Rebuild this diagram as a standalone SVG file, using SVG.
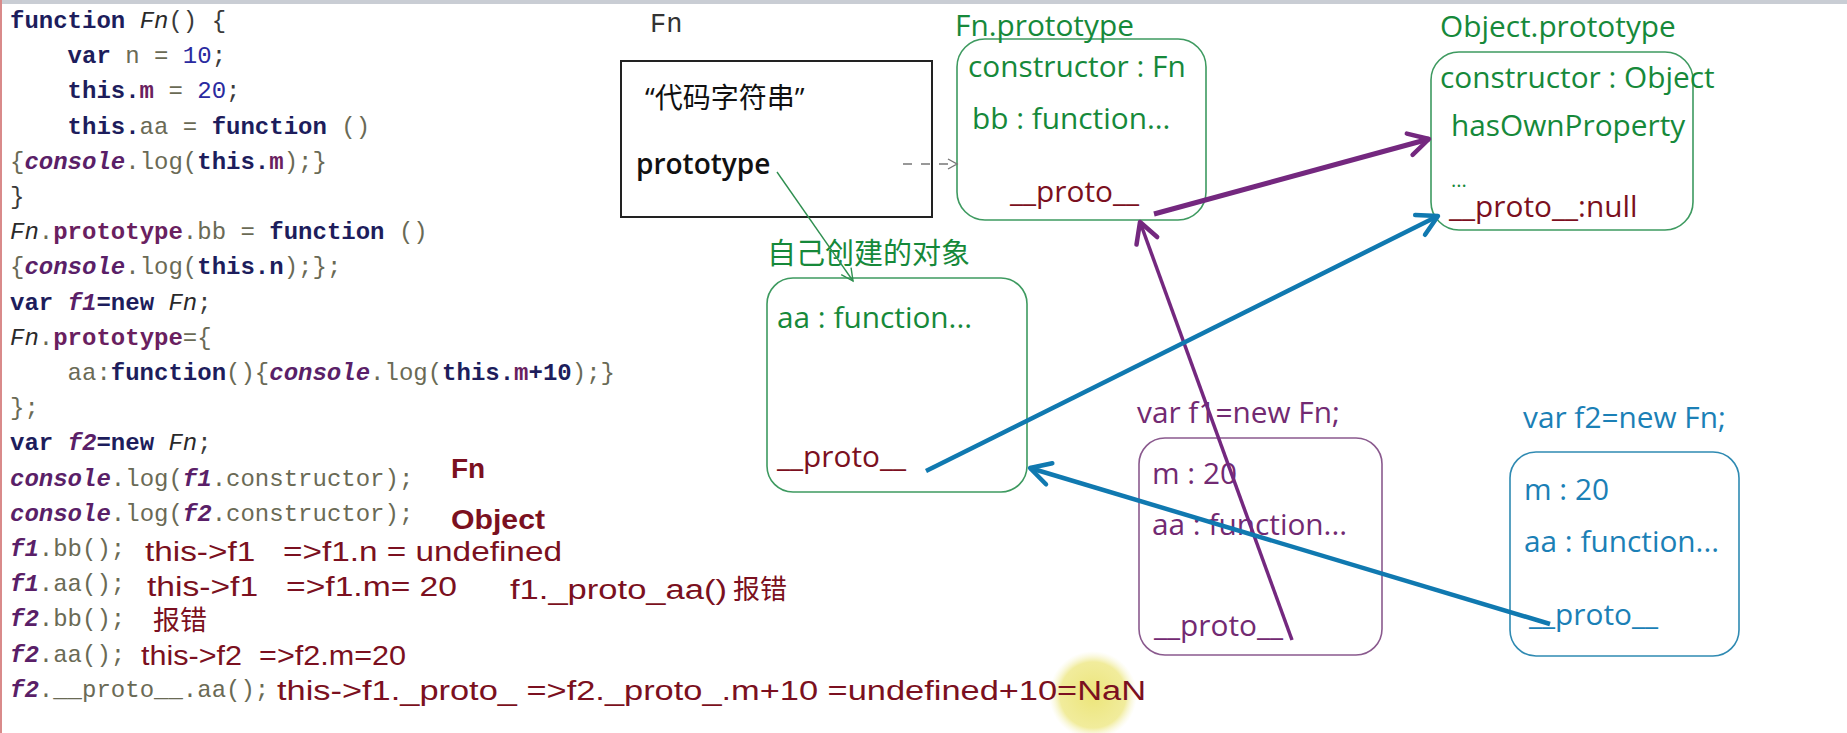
<svg xmlns="http://www.w3.org/2000/svg" width="1847" height="733" viewBox="0 0 1847 733">
<style>
text{white-space:pre}
.code{font-family:"Liberation Mono","DejaVu Sans Mono",monospace;font-size:24px;fill:#3a3a3a}
.k{font-weight:bold;fill:#1d1d5c}
.i{font-style:italic;fill:#2a2a2a}
.c{font-style:italic;font-weight:bold;fill:#5a1f68}
.g{fill:#6a6a55}
.p{font-weight:bold;fill:#6a1f60}
.n{fill:#2a2aa0}
.d{fill:#3a3a3a}
.ann{font-family:"Liberation Sans",Arial,"Noto Sans CJK SC",sans-serif;font-size:27px;fill:#7b1020}
.annb{font-family:"Liberation Sans",Arial,sans-serif;font-size:28px;font-weight:bold;fill:#7b1020}
.lbl{font-family:"Open Sans","Noto Sans","Liberation Sans",sans-serif;font-size:29.8px}
.cjk{font-family:"Noto Sans CJK SC","Noto Sans",sans-serif}
.green{fill:#16893a}
.red{fill:#7b1020}
.purple{fill:#722a72}
.blue{fill:#1b80b6}
.gbox{fill:none;stroke:#3e9a60;stroke-width:1.6}
.pbox{fill:none;stroke:#8a5a8e;stroke-width:1.6}
.bbox{fill:none;stroke:#2f8ab2;stroke-width:1.6}
</style>
<defs>
<marker id="ahP" markerUnits="userSpaceOnUse" viewBox="0 0 30 30" markerWidth="30" markerHeight="30" refX="27" refY="15" orient="auto">
<path d="M7,4 L27,15 L7,26" fill="none" stroke="#74287f" stroke-width="4.5" stroke-linecap="round" stroke-linejoin="round"/>
</marker>
<marker id="ahB" markerUnits="userSpaceOnUse" viewBox="0 0 30 30" markerWidth="30" markerHeight="30" refX="27" refY="15" orient="auto">
<path d="M7,4 L27,15 L7,26" fill="none" stroke="#1079b0" stroke-width="4.5" stroke-linecap="round" stroke-linejoin="round"/>
</marker>
<marker id="ahG" markerUnits="userSpaceOnUse" viewBox="0 0 16 16" markerWidth="16" markerHeight="16" refX="14" refY="8" orient="auto">
<path d="M2,2 L14,8 L2,14" fill="none" stroke="#2f8f50" stroke-width="1.4"/>
</marker>
<marker id="ahD" markerUnits="userSpaceOnUse" viewBox="0 0 14 14" markerWidth="14" markerHeight="14" refX="12" refY="7" orient="auto">
<path d="M3,2 L12,7 L3,12" fill="none" stroke="#777" stroke-width="1.4"/>
</marker>
<radialGradient id="hl">
<stop offset="0" stop-color="#ece57a"/>
<stop offset="0.75" stop-color="#f1ec9c"/>
<stop offset="1" stop-color="#f7f5d0" stop-opacity="0"/>
</radialGradient>
</defs>
<rect x="0" y="0" width="1847" height="733" fill="#ffffff"/>
<rect x="0" y="0" width="1847" height="4" fill="#c9cdd4"/>
<rect x="0" y="0" width="2" height="733" fill="#d98a8a"/>

<g id="code" class="code">
<text x="10" y="28"><tspan class="k">function</tspan> <tspan class="i">Fn</tspan><tspan class="d">() {</tspan></text>
<text x="67.6" y="63.2"><tspan class="k">var</tspan><tspan class="g"> n = </tspan><tspan class="n">10</tspan><tspan class="d">;</tspan></text>
<text x="67.6" y="98.4"><tspan class="k">this.</tspan><tspan class="p">m</tspan><tspan class="g"> = </tspan><tspan class="n">20</tspan><tspan class="d">;</tspan></text>
<text x="67.6" y="133.6"><tspan class="k">this.</tspan><tspan class="g">aa = </tspan><tspan class="k">function</tspan><tspan class="g"> ()</tspan></text>
<text x="10" y="168.8"><tspan class="g">{</tspan><tspan class="c">console</tspan><tspan class="g">.log(</tspan><tspan class="k">this.</tspan><tspan class="p">m</tspan><tspan class="g">);}</tspan></text>
<text x="10" y="204"><tspan class="d">}</tspan></text>
<text x="10" y="239.2"><tspan class="i">Fn</tspan><tspan class="g">.</tspan><tspan class="p">prototype</tspan><tspan class="g">.bb = </tspan><tspan class="k">function</tspan><tspan class="g"> ()</tspan></text>
<text x="10" y="274.4"><tspan class="g">{</tspan><tspan class="c">console</tspan><tspan class="g">.log(</tspan><tspan class="k">this.n</tspan><tspan class="g">);};</tspan></text>
<text x="10" y="309.6"><tspan class="k">var</tspan> <tspan class="c">f1</tspan><tspan class="k">=new</tspan> <tspan class="i">Fn</tspan><tspan class="d">;</tspan></text>
<text x="10" y="344.8"><tspan class="i">Fn</tspan><tspan class="g">.</tspan><tspan class="p">prototype</tspan><tspan class="g">={</tspan></text>
<text x="67.6" y="380"><tspan class="g">aa:</tspan><tspan class="k">function</tspan><tspan class="g">(){</tspan><tspan class="c">console</tspan><tspan class="g">.log(</tspan><tspan class="k">this.</tspan><tspan class="p">m</tspan><tspan class="k">+10</tspan><tspan class="g">);}</tspan></text>
<text x="10" y="415.2"><tspan class="g">};</tspan></text>
<text x="10" y="450.4"><tspan class="k">var</tspan> <tspan class="c">f2</tspan><tspan class="k">=new</tspan> <tspan class="i">Fn</tspan><tspan class="d">;</tspan></text>
<text x="10" y="485.6"><tspan class="c">console</tspan><tspan class="g">.log(</tspan><tspan class="c">f1</tspan><tspan class="g">.constructor);</tspan></text>
<text x="10" y="520.8"><tspan class="c">console</tspan><tspan class="g">.log(</tspan><tspan class="c">f2</tspan><tspan class="g">.constructor);</tspan></text>
<text x="10" y="556"><tspan class="c">f1</tspan><tspan class="g">.bb();</tspan></text>
<text x="10" y="591.2"><tspan class="c">f1</tspan><tspan class="g">.aa();</tspan></text>
<text x="10" y="626.4"><tspan class="c">f2</tspan><tspan class="g">.bb();</tspan></text>
<text x="10" y="661.6"><tspan class="c">f2</tspan><tspan class="g">.aa();</tspan></text>
<text x="10" y="696.8"><tspan class="c">f2</tspan><tspan class="g">.__proto__.aa();</tspan></text>
</g>

<circle cx="1093" cy="695" r="44" fill="url(#hl)"/>

<g id="annotations">
<text class="annb" x="451" y="478">Fn</text>
<text class="annb" x="451" y="529" textLength="94" lengthAdjust="spacingAndGlyphs">Object</text>
<text class="ann" x="145" y="561" textLength="417" lengthAdjust="spacingAndGlyphs">this-&gt;f1   =&gt;f1.n = undefined</text>
<text class="ann" x="147" y="596" textLength="310" lengthAdjust="spacingAndGlyphs">this-&gt;f1   =&gt;f1.m= 20</text>
<text class="ann" x="510" y="599" textLength="217" lengthAdjust="spacingAndGlyphs">f1._proto_aa()</text>
<text class="ann" x="733" y="599">报错</text>
<text class="ann" x="153" y="630">报错</text>
<text class="ann" x="141" y="665" textLength="265" lengthAdjust="spacingAndGlyphs">this-&gt;f2  =&gt;f2.m=20</text>
<text class="ann" x="277" y="700" textLength="869" lengthAdjust="spacingAndGlyphs">this-&gt;f1._proto_ =&gt;f2._proto_.m+10 =undefined+10=NaN</text>
</g>

<g id="node-fn">
<text x="650" y="32" style="font-family:'Liberation Mono',monospace;font-size:27px;fill:#333">Fn</text>
<rect x="621" y="61" width="311" height="156" fill="none" stroke="#222" stroke-width="2"/>
<text x="645" y="108" style="font-size:28px;fill:#111"><tspan style="font-family:'Open Sans',sans-serif">“</tspan><tspan class="cjk">代码字符串</tspan><tspan style="font-family:'Open Sans',sans-serif">”</tspan></text>
<text class="lbl" x="636" y="174" style="fill:#111;font-weight:600;font-size:28px">prototype</text>
</g>

<g id="node-fnproto">
<rect class="gbox" x="957" y="39" width="249" height="181" rx="28"/>
<text class="lbl green" x="955" y="36">Fn.prototype</text>
<text class="lbl green" x="968" y="77">constructor : Fn</text>
<text class="lbl green" x="972" y="129">bb : function...</text>
<text class="lbl red" x="1010" y="202">__proto__</text>
</g>

<g id="node-self">
<text class="lbl green cjk" x="767" y="264" style="font-size:29px">自己创建的对象</text>
<rect class="gbox" x="767" y="278" width="260" height="214" rx="26"/>
<text class="lbl green" x="777" y="328">aa : function...</text>
<text class="lbl red" x="777" y="467">__proto__</text>
</g>

<g id="node-objproto">
<text class="lbl green" x="1440" y="37">Object.prototype</text>
<rect class="gbox" x="1431" y="52" width="262" height="178" rx="28"/>
<text class="lbl green" x="1440" y="88">constructor : Object</text>
<text class="lbl green" x="1451" y="136">hasOwnProperty</text>
<text class="lbl green" x="1451" y="187" style="font-size:20px">...</text>
<text class="lbl red" x="1449" y="217">__proto__:null</text>
</g>

<g id="node-f1">
<text class="lbl purple" x="1137" y="423">var f1=new Fn;</text>
<rect class="pbox" x="1139" y="438" width="243" height="217" rx="26"/>
<text class="lbl purple" x="1152" y="484">m : 20</text>
<text class="lbl purple" x="1152" y="535">aa : function...</text>
<text class="lbl purple" x="1154" y="636">__proto__</text>
</g>

<g id="node-f2">
<text class="lbl blue" x="1523" y="428">var f2=new Fn;</text>
<rect class="bbox" x="1510" y="452" width="229" height="204" rx="26"/>
<text class="lbl blue" x="1524" y="500">m : 20</text>
<text class="lbl blue" x="1524" y="552">aa : function...</text>
<text class="lbl blue" x="1529" y="625">__proto__</text>
</g>

<g id="connectors" fill="none">
<line x1="903" y1="164" x2="957" y2="164" stroke="#777" stroke-width="1.4" stroke-dasharray="9,9" marker-end="url(#ahD)"/>
<line x1="777" y1="172" x2="853" y2="281" stroke="#2f8f50" stroke-width="1.4" marker-end="url(#ahG)"/>
<line x1="1154" y1="214" x2="1429" y2="139" stroke="#74287f" stroke-width="5" marker-end="url(#ahP)"/>
<line x1="1292" y1="640" x2="1140" y2="222" stroke="#74287f" stroke-width="3.5" marker-end="url(#ahP)"/>
<line x1="926" y1="471" x2="1438" y2="216" stroke="#1079b0" stroke-width="4.5" marker-end="url(#ahB)"/>
<line x1="1550" y1="624" x2="1030" y2="468" stroke="#1079b0" stroke-width="4.5" marker-end="url(#ahB)"/>
</g>
</svg>
